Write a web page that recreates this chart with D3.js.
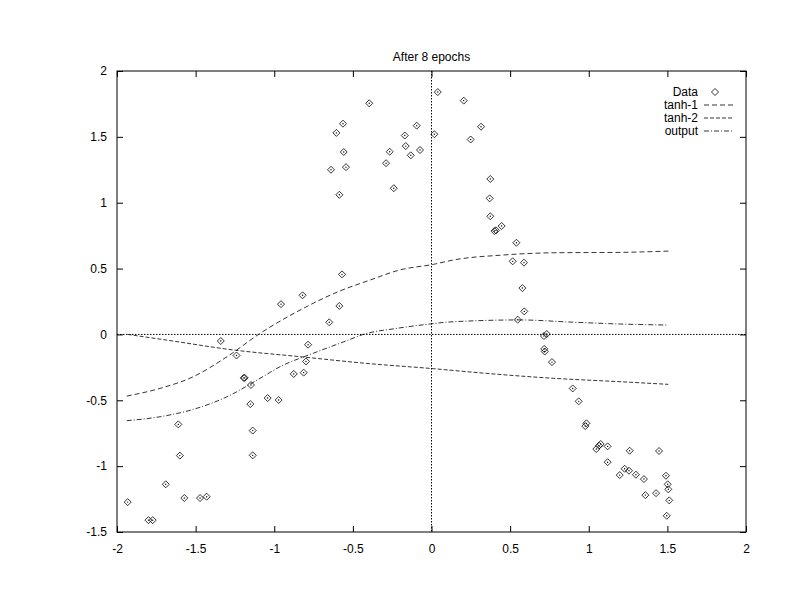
<!DOCTYPE html>
<html>
<head>
<meta charset="utf-8">
<script src="https://cdn.jsdelivr.net/npm/d3@7"></script>
<style>
  body { margin: 0; background: #fff; }
  text { font-family: "Liberation Sans", Arial, sans-serif; font-size: 12px; fill: #000; }
</style>
</head>
<body>
<svg width="792" height="612"></svg>
<script>
// data
const dataX = [0.04, -0.396, -0.563, -0.605, -0.17, -0.094, 0.018, -0.164, -0.073, -0.266,
  -0.558, -0.132, -0.289, -0.544, -0.639, -0.24, -0.586, -0.569, -0.82, -0.957, -0.586,
  0.205, 0.315, 0.249, 0.374, 0.37, 0.374, 0.446, 0.40, 0.41, 0.54, 0.516, 0.588, 0.578, 0.59,
  0.548, 0.715, 0.733, 0.717, 0.72, 0.766, 0.898, 0.936, 0.985, 0.978, 1.076, 1.065, 1.048,
  1.12, 1.26, 1.447, 1.12, 1.228, 1.256, 1.197, 1.30, 1.351, 1.491, 1.502, 1.506, 1.512,
  1.36, 1.428, 1.496,
  -0.65, -1.34, -0.785, -1.24, -0.798, -0.876, -0.813, -1.194, -1.188, -1.148, -1.042,
  -0.972, -1.152, -1.61, -1.137, -1.60, -1.137, -1.69, -1.572, -1.472, -1.43, -1.932,
  -1.80, -1.773];
const dataY = [1.84, 1.755, 1.60, 1.53, 1.51, 1.585, 1.52, 1.43, 1.40, 1.387,
  1.385, 1.36, 1.30, 1.27, 1.25, 1.11, 1.06, 0.456, 0.297, 0.23, 0.216,
  1.775, 1.577, 1.48, 1.18, 1.033, 0.897, 0.823, 0.785, 0.79, 0.696, 0.555, 0.545, 0.352, 0.175,
  0.112, -0.012, 0.003, -0.11, -0.13, -0.21, -0.41, -0.508, -0.675, -0.696, -0.832, -0.845, -0.87,
  -0.85, -0.883, -0.885, -0.97, -1.02, -1.035, -1.068, -1.065, -1.098, -1.073, -1.138, -1.176, -1.26,
  -1.22, -1.205, -1.377,
  0.092, -0.05, -0.078, -0.16, -0.205, -0.30, -0.29, -0.33, -0.33, -0.384, -0.483,
  -0.498, -0.529, -0.683, -0.73, -0.92, -0.918, -1.138, -1.242, -1.242, -1.232, -1.273,
  -1.41, -1.41];

const tanh1X = [-1.938, -1.727, -1.515, -1.30, -1.09, -0.836, -0.582, -0.39, -0.2, 0.012, 0.139, 0.457, 0.775, 1.199, 1.512];
const tanh1Y = [-0.468, -0.41, -0.321, -0.169, 0.008, 0.185, 0.33, 0.413, 0.49, 0.532, 0.565, 0.603, 0.62, 0.623, 0.633];

const tanh2X = [-1.932, -1.684, -1.26, -0.836, -0.412, 0.012, 0.351, 0.775, 1.199, 1.506];
const tanh2Y = [0.0, -0.043, -0.118, -0.169, -0.22, -0.26, -0.296, -0.333, -0.359, -0.379];

const outX = [-1.938, -1.727, -1.515, -1.30, -1.09, -0.963, -0.752, -0.54, -0.434, -0.221, -0.01, 0.107, 0.563, 0.88, 1.2, 1.506];
const outY = [-0.655, -0.625, -0.569, -0.473, -0.333, -0.245, -0.143, -0.048, 0.0, 0.046, 0.079, 0.094, 0.11, 0.094, 0.079, 0.071];

const xTicks = [-2, -1.5, -1, -0.5, 0, 0.5, 1, 1.5, 2];
const yTicks = [-1.5, -1, -0.5, 0, 0.5, 1, 1.5, 2];
const legendLabels = ['Data', 'tanh-1', 'tanh-2', 'output'];

const svg = d3.select('svg');
const m = { left: 117, right: 746, top: 71, bottom: 532 };

const x = d3.scaleLinear().domain([-2, 2]).range([m.left, m.right]);
const y = d3.scaleLinear().domain([-1.5, 2]).range([m.bottom, m.top]);

// title
svg.append('text')
    .attr('x', (m.left + m.right) / 2)
    .attr('y', 61)
    .attr('text-anchor', 'middle')
    .text('After 8 epochs');

// zero axes, dotted
svg.append('line')
    .attr('x1', m.left).attr('x2', m.right)
    .attr('y1', y(0)).attr('y2', y(0))
    .attr('stroke', '#000').attr('stroke-dasharray', '1.5,1.5');
svg.append('line')
    .attr('x1', x(0)).attr('x2', x(0))
    .attr('y1', m.top).attr('y2', m.bottom)
    .attr('stroke', '#000').attr('stroke-dasharray', '1.5,1.5');

// axes with mirrored ticks, plain hyphen minus like gnuplot
const fmt = d => String(d);
const tickLen = 6;
svg.append('g')
    .attr('transform', `translate(0,${m.bottom})`)
    .call(d3.axisBottom(x).tickValues(xTicks).tickSize(-tickLen).tickPadding(12).tickFormat(fmt))
    .call(g => g.select('.domain').remove());
svg.append('g')
    .attr('transform', `translate(0,${m.top})`)
    .call(d3.axisTop(x).tickValues(xTicks).tickSize(-tickLen).tickFormat(''))
    .call(g => g.select('.domain').remove());
svg.append('g')
    .attr('transform', `translate(${m.left},0)`)
    .call(d3.axisLeft(y).tickValues(yTicks).tickSize(-tickLen).tickPadding(10).tickFormat(fmt))
    .call(g => g.select('.domain').remove());
svg.append('g')
    .attr('transform', `translate(${m.right},0)`)
    .call(d3.axisRight(y).tickValues(yTicks).tickSize(-tickLen).tickFormat(''))
    .call(g => g.select('.domain').remove());

svg.selectAll('.tick text')
    .style('font-family', '"Liberation Sans", Arial, sans-serif')
    .style('font-size', '12px');

svg.append('rect')
    .attr('x', m.left).attr('y', m.top)
    .attr('width', m.right - m.left).attr('height', m.bottom - m.top)
    .attr('fill', 'none').attr('stroke', '#000');

// curves
const line = d3.line().x(d => x(d[0])).y(d => y(d[1])).curve(d3.curveMonotoneX);
const curves = [
  { xs: tanh1X, ys: tanh1Y, dash: '5,3' },
  { xs: tanh2X, ys: tanh2Y, dash: '4,2' },
  { xs: outX, ys: outY, dash: '5,2,1,2' }
];
curves.forEach(c => {
  svg.append('path')
      .datum(d3.zip(c.xs, c.ys))
      .attr('d', line)
      .attr('fill', 'none')
      .attr('stroke', '#000')
      .attr('stroke-width', 0.8)
      .attr('stroke-dasharray', c.dash);
});

// data points
const diamond = 'M0,-3.5L3.5,0L0,3.5L-3.5,0Z';
const pts = svg.append('g');
pts.selectAll('path')
  .data(d3.zip(dataX, dataY))
  .join('path')
    .attr('transform', d => `translate(${x(d[0])},${y(d[1])})`)
    .attr('d', diamond)
    .attr('fill', 'none')
    .attr('stroke', '#000')
    .attr('stroke-width', 0.8);
pts.selectAll('circle')
  .data(d3.zip(dataX, dataY))
  .join('circle')
    .attr('cx', d => x(d[0]))
    .attr('cy', d => y(d[1]))
    .attr('r', 0.7)
    .attr('fill', '#000');

// legend
const legend = svg.append('g');
legendLabels.forEach((lab, i) => {
  const ly = 92 + i * 13;
  legend.append('text')
      .attr('x', 698).attr('y', ly + 4)
      .attr('text-anchor', 'end')
      .text(lab);
  if (i === 0) {
    legend.append('path')
        .attr('transform', `translate(715,${ly})`)
        .attr('d', diamond)
        .attr('fill', 'none').attr('stroke', '#000').attr('stroke-width', 0.8);
  } else {
    legend.append('line')
        .attr('x1', 704).attr('x2', 734)
        .attr('y1', ly).attr('y2', ly)
        .attr('stroke', '#000').attr('stroke-width', 0.8)
        .attr('stroke-dasharray', curves[i - 1].dash);
  }
});
</script>
</body>
</html>
